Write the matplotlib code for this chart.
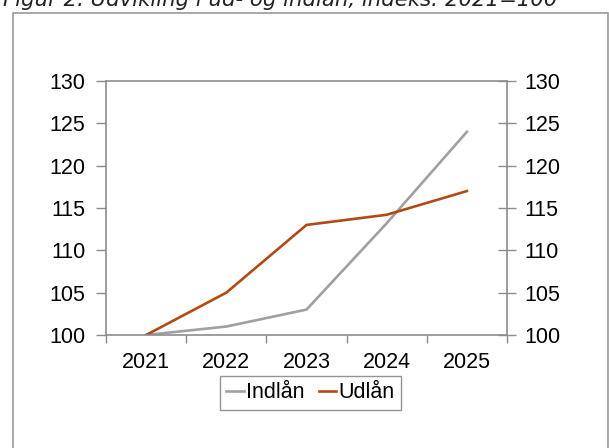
import matplotlib
matplotlib.use("Agg")
import matplotlib.pyplot as plt
from matplotlib.patches import Rectangle

# indeks: 2021 = 100
years = ["2021", "2022", "2023", "2024", "2025"]
indlaan = [100, 101, 103, 113.2, 124]
udlaan = [100, 105, 113, 114.2, 117]
yticks = [100, 105, 110, 115, 120, 125, 130]

title = "Figur 2. Udvikling i ud- og indlån, indeks: 2021=100"

plt.rcParams["font.family"] = ["Liberation Sans", "DejaVu Sans"]
axis_col = "#8c8c8c"
fs = 15.5

fig = plt.figure(figsize=(6.09, 4.48), dpi=100)
fig.patch.set_facecolor("white")

# ramme om figuren
fig.patches.append(Rectangle((13 / 609, -0.1), 595 / 609, 1 - 13 / 448 + 0.1,
                             transform=fig.transFigure, fill=False,
                             edgecolor="#9a9a9a", lw=1.2))
fig.text(3 / 609, 1 - 6 / 448, title, family="DejaVu Sans", style="italic",
         fontsize=15.3, va="baseline", ha="left", color="#222222")

ax = fig.add_axes([106 / 609, 1 - 335 / 448, 401 / 609, 254 / 448])
x = list(range(len(years)))
ax.plot(x, indlaan, color="#a0a0a0", lw=1.9, label="Indlån")
ax.plot(x, udlaan, color="#b24a16", lw=1.9, label="Udlån")

ax.set_xlim(-0.5, len(years) - 0.5)
ax.set_ylim(100, 130)
ax.set_yticks(yticks)
ax.set_xticks(x)
ax.set_xticklabels(years)
ax.set_xticks([i - 0.5 for i in range(len(years) + 1)], minor=True)
ax.tick_params(axis="x", which="major", length=0, labelsize=fs, pad=12)
ax.tick_params(axis="x", which="minor", length=6, width=1, color=axis_col,
               direction="out")
ax.tick_params(axis="y", length=7, width=1, color=axis_col, labelsize=fs,
               pad=8)
for s in ax.spines.values():
    s.set_color(axis_col)
    s.set_linewidth(1.2)

ax2 = ax.twinx()
ax2.set_ylim(100, 130)
ax2.set_yticks(yticks)
ax2.tick_params(axis="y", direction="inout", length=13, width=1,
                color=axis_col, labelsize=fs, pad=6)
for s in ax2.spines.values():
    s.set_visible(False)

leg = ax.legend(loc="upper center", bbox_to_anchor=(0.51, -0.16), ncol=2,
                frameon=True, fancybox=False, fontsize=fs, handlelength=0.8,
                handletextpad=0.1, columnspacing=0.7, borderpad=0.3,
                borderaxespad=0)
leg.get_frame().set_edgecolor("#7a7a7a")
leg.get_frame().set_linewidth(1.0)

fig.savefig("out.png", dpi=100)
